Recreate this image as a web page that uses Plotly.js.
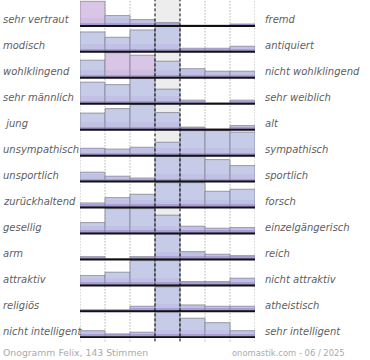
<!DOCTYPE html>
<html>
<head>
<meta charset="utf-8">
<script src="https://cdn.plot.ly/plotly-3.0.1.min.js"></script>
<style>html,body{margin:0;padding:0;background:#fff;}#chart{width:370px;height:360px;}</style>
</head>
<body>
<div id="chart"></div>
<script>
// Left (positive) and right (opposite) pole labels, top to bottom
const leftLabels = ["sehr vertraut","modisch","wohlklingend","sehr männlich"," jung","unsympathisch","unsportlich","zurückhaltend","gesellig","arm","attraktiv","religiös","nicht intelligent"];
const rightLabels = ["fremd","antiquiert","nicht wohlklingend","sehr weiblich","alt","sympathisch","sportlich","forsch","einzelgängerisch","reich","nicht attraktiv","atheistisch","sehr intelligent"];
// Bar heights per row for the 7 scale steps (relative, 25 = full row height)
const r01 = [24, 9.7, 5.7, 2.7, 0, 0, 1.3];
const r02 = [19.3, 14, 21.3, 25, 3, 3, 5];
const r03 = [17, 24.5, 22, 16, 8.5, 6, 6];
const r04 = [21, 18.5, 25, 14, 3, 0, 3];
const r05 = [16, 20.5, 24.5, 16.5, 2, 0, 3.5];
const r06 = [6.8, 6, 7.8, 12.8, 24.4, 24.4, 23];
const r07 = [8.8, 4.8, 3, 25, 25, 21.4, 15.4];
const r08 = [4, 9.3, 12.7, 24.3, 24.3, 15.7, 17.7];
const r09 = [10.3, 24.3, 24.3, 17.7, 6.7, 4.7, 5.3];
const r10 = [2.2, 0, 2.2, 25, 7.2, 4.6, 3.2];
const r11 = [9.2, 12.6, 24.2, 24.2, 3.2, 3.2, 6.6];
const r12 = [1, 1, 4.5, 24, 5.8, 4.5, 4.5];
const r13 = [6, 2.8, 4.5, 25, 18.5, 14, 6];
const rows = [r01,r02,r03,r04,r05,r06,r07,r08,r09,r10,r11,r12,r13];
const footerLeft = "Onogramm Felix, 143 Stimmen";
const footerRight = "onomastik.com - 06 / 2025";

// styling
const highlight = {"0-0":1, "2-1":1, "2-2":1};
const rowStep = 25.95, topBase = 312.7, plotW = 175, plotH = 338;
const xs = [], ys = [], bases = [], cols = [], band1 = [], band2 = [];
rows.forEach((r, i) => {
  const b = topBase - rowStep * i;
  r.forEach((v, j) => {
    xs.push(j + 0.5); ys.push(v); bases.push(b);
    cols.push(highlight[i + "-" + j] ? "#d9c6e6" : "#c6cbe8");
    band1.push(Math.min(v, 7)); band2.push(Math.min(v, 2.5));
  });
});
const traces = [
  {type:"bar", x:xs, y:ys, base:bases, width:1, marker:{color:cols, line:{color:"rgba(125,125,140,0.75)", width:1}}, hoverinfo:"skip"},
  {type:"bar", x:xs, y:band1, base:bases, width:1, marker:{color:"rgba(175,160,215,0.22)", line:{width:0}}, hoverinfo:"skip"},
  {type:"bar", x:xs, y:band2, base:bases, width:1, marker:{color:"rgba(140,120,195,0.45)", line:{width:0}}, hoverinfo:"skip"}
];
const shapes = [
  {type:"rect", xref:"x", yref:"paper", x0:3, x1:4, y0:0, y1:1, fillcolor:"#ededed", line:{width:0}, layer:"below"}
];
[0,1,2,5,6,7].forEach(x => shapes.push({type:"line", xref:"x", yref:"paper", x0:x, x1:x, y0:-0.01, y1:1, line:{color:"#888", width:1, dash:"1px,2px"}, layer:"below"}));
[3,4].forEach(x => shapes.push({type:"line", xref:"x", yref:"paper", x0:x, x1:x, y0:-0.01, y1:1, line:{color:"#000", width:1, dash:"3px,2px"}, layer:"above"}));
const annotations = [];
const lblFont = {family:"DejaVu Sans", size:10, color:"#606060", style:"italic"};
rows.forEach((r, i) => {
  const b = topBase - rowStep * i;
  shapes.push({type:"line", xref:"x", yref:"y", x0:0, x1:7, y0:b - 0.6, y1:b - 0.6, line:{color:"#111", width:2}, layer:"above"});
  const py = (b + 5.3) / plotH;
  annotations.push({xref:"paper", yref:"paper", x:-79/plotW, y:py, xanchor:"left", yanchor:"middle", showarrow:false, text:leftLabels[i], font:lblFont});
  annotations.push({xref:"paper", yref:"paper", x:(263-80)/plotW, y:py, xanchor:"left", yanchor:"middle", showarrow:false, text:rightLabels[i], font:lblFont});
});
annotations.push({xref:"paper", yref:"paper", x:-79/plotW, y:-15/plotH, xanchor:"left", yanchor:"middle", showarrow:false, text:footerLeft, font:{family:"DejaVu Sans", size:9.3, color:"#aaaaaa"}});
annotations.push({xref:"paper", yref:"paper", x:(347-80)/plotW, y:-15/plotH, xanchor:"right", yanchor:"middle", showarrow:false, text:footerRight, font:{family:"DejaVu Sans", size:8.4, color:"#aaaaaa"}});

const layout = {
  width:370, height:360, margin:{l:80, r:115, t:0, b:22},
  paper_bgcolor:"#fff", plot_bgcolor:"rgba(0,0,0,0)",
  barmode:"overlay", bargap:0, showlegend:false,
  xaxis:{range:[0,7], visible:false, fixedrange:true},
  yaxis:{range:[0,plotH], visible:false, fixedrange:true},
  shapes:shapes, annotations:annotations
};
Plotly.newPlot("chart", traces, layout, {displayModeBar:false, staticPlot:true});
</script>
</body>
</html>
